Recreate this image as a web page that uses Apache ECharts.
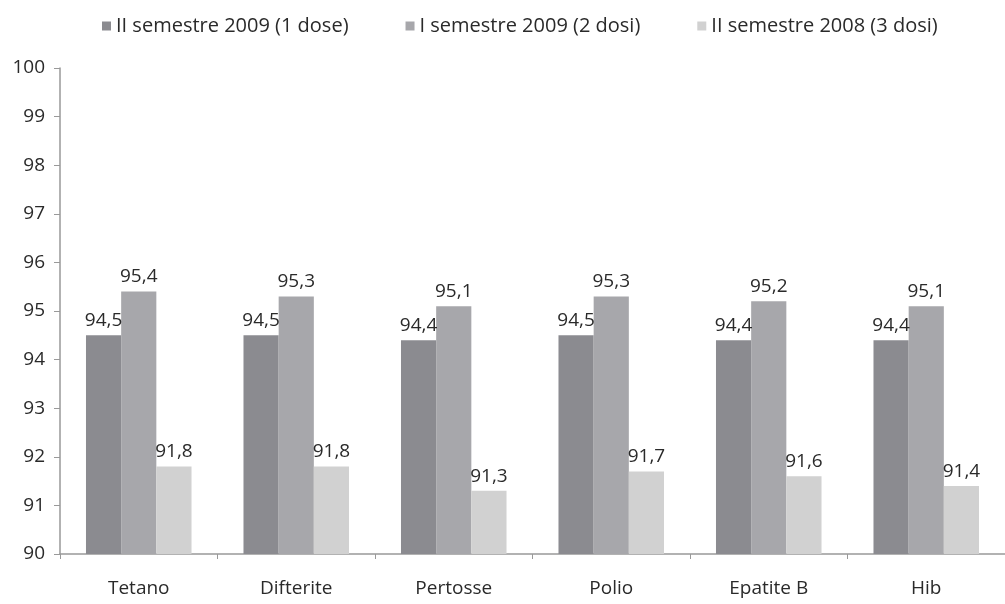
<!DOCTYPE html>
<html><head><meta charset="utf-8">
<script src="https://cdn.jsdelivr.net/npm/echarts@6/dist/echarts.min.js"></script>
<style>html,body{margin:0;padding:0;background:#fff}#c{width:1005px;height:604px}</style>
</head><body><div id="c"></div>
<script>
const categories = ['Tetano','Difterite','Pertosse','Polio','Epatite B','Hib'];
const seriesNames = ['II semestre 2009 (1 dose)','I semestre 2009 (2 dosi)','II semestre 2008 (3 dosi)'];
const dose1 = [94.5,94.5,94.4,94.5,94.4,94.4];
const dose2 = [95.4,95.3,95.1,95.3,95.2,95.1];
const dose3 = [91.8,91.8,91.3,91.7,91.6,91.4];
const yTicks = [90,91,92,93,94,95,96,97,98,99,100];
const colors = ['#8b8b90','#a7a7ab','#d1d1d1'];
const font = 'Open Sans';
const chart = echarts.init(document.getElementById('c'));
const mk = (name, data, i) => ({
  name, type:'bar', data, barGap:'0%', barCategoryGap:'33%',
  itemStyle:{color:colors[i]},
  label:{show:true, position:'top', distance:5, color:'#2a2a2a', fontFamily:font, fontSize:19,
    formatter:p=>p.value.toFixed(1).replace('.',',')}
});
chart.setOption({
  animation:false,
  textStyle:{fontFamily:font},
  legend:{top:11, left:97, itemWidth:9, itemHeight:9, itemGap:57,
    icon:'rect', textStyle:{fontFamily:font, fontSize:20, color:'#2a2a2a'}, data:seriesNames},
  grid:{left:60, right:0, top:68, bottom:50, containLabel:false},
  xAxis:{type:'category', data:categories,
    axisLine:{lineStyle:{color:'#999', width:1.5}},
    axisTick:{show:true, length:5, lineStyle:{color:'#999'}},
    axisLabel:{color:'#2a2a2a', fontSize:19, fontFamily:font, margin:25}},
  yAxis:{type:'value', min:yTicks[0], max:yTicks[yTicks.length-1], interval:1,
    axisLine:{show:true, lineStyle:{color:'#999', width:1.5}},
    axisTick:{show:true, length:6, lineStyle:{color:'#999'}},
    splitLine:{show:false},
    axisLabel:{color:'#2a2a2a', fontSize:19, fontFamily:font, margin:15}},
  series:[mk(seriesNames[0],dose1,0), mk(seriesNames[1],dose2,1), mk(seriesNames[2],dose3,2)]
});
</script></body></html>
